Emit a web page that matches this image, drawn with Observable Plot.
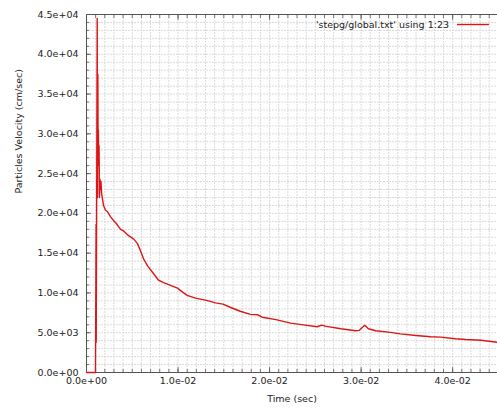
<!DOCTYPE html>
<html><head><meta charset="utf-8">
<script src="https://cdn.jsdelivr.net/npm/d3@7"></script>
<script src="https://cdn.jsdelivr.net/npm/@observablehq/plot@0.6"></script>
<style>
html,body{margin:0;padding:0;background:#fff;}
</style>
</head><body>
<div id="chart"></div>
<script>
const time = [0, 0.00098, 0.00105, 0.00106, 0.00112, 0.00117, 0.00120, 0.00124, 0.00127, 0.00130, 0.00133, 0.00137, 0.00142, 0.00147, 0.00152, 0.00158, 0.00165,
  0.00186, 0.00208, 0.0023, 0.00262, 0.00295, 0.00328, 0.00372, 0.00404, 0.00448, 0.00514, 0.00557, 0.0059, 0.00623, 0.00667, 0.00721, 0.00754, 0.00787, 0.00842,
  0.00918, 0.00995, 0.0105, 0.0110, 0.0119, 0.0130, 0.0141, 0.0149, 0.0157, 0.0168, 0.0179, 0.0187, 0.0192, 0.0207, 0.0223, 0.0239, 0.0252, 0.0257, 0.0262,
  0.0278, 0.0294, 0.0298, 0.0304, 0.0308, 0.0316, 0.0332, 0.0343, 0.0360, 0.0376, 0.0387, 0.0403, 0.0414, 0.0431, 0.0449];
const velocity = [0, 0, 18600, 3800, 25000, 44500, 22000, 37500, 26000, 30500, 26500, 28500, 22000, 24300, 23000, 24000, 22500,
  21000, 20400, 20200, 19600, 19100, 18700, 18000, 17800, 17300, 16800, 16200, 15300, 14300, 13400, 12600, 12100, 11600, 11300,
  10950, 10600, 10100, 9700, 9350, 9100, 8750, 8600, 8200, 7700, 7300, 7250, 6950, 6650, 6200, 5950, 5750, 5950, 5800,
  5500, 5250, 5300, 5950, 5500, 5250, 5050, 4850, 4650, 4500, 4450, 4250, 4150, 4050, 3800];
const xTicks = [0, 0.01, 0.02, 0.03, 0.04];
const yTicks = [0, 5000, 10000, 15000, 20000, 25000, 30000, 35000, 40000, 45000];
const xMinor = d3.range(0, 45).map(i => i / 1000);
const yMinor = d3.range(0, 46).map(i => i * 1000);
const xLabel = "Time (sec)";
const yLabel = "Particles Velocity (cm/sec)";
const legendLabel = "'stepg/global.txt' using 1:23";

const data = time.map((t, i) => ({t, v: velocity[i]}));
const fmt = d => {
  const [m, e] = d.toExponential(1).split("e");
  return m + "e" + e[0] + e.slice(1).padStart(2, "0");
};
const font = "DejaVu Sans, sans-serif";
const gridStyle = {stroke: "#dadada", strokeOpacity: 1, strokeDasharray: "2,1", strokeWidth: 1};
const tickStyle = {stroke: "#555", strokeWidth: 0.8, label: null};

const plot = Plot.plot({
  width: 497, height: 409,
  marginLeft: 86, marginTop: 14, marginBottom: 37, marginRight: 0,
  style: {fontFamily: font, background: "#fff"},
  x: {domain: [0, 0.0449]},
  y: {domain: [0, 45000]},
  marks: [
    Plot.gridX(xMinor, gridStyle),
    Plot.gridY(yMinor, gridStyle),
    Plot.ruleX([0], {stroke: "#555", strokeWidth: 1}),
    Plot.ruleY([0, 45000], {stroke: "#555", strokeWidth: 1}),
    // ticks drawn inward
    Plot.axisY(yTicks, {anchor: "left", text: null, tickSize: 5, dx: 5, ...tickStyle}),
    Plot.axisY(yMinor, {anchor: "left", text: null, tickSize: 3, dx: 3, ...tickStyle}),
    Plot.axisX(xTicks, {anchor: "bottom", text: null, tickSize: 5, dy: -5, ...tickStyle}),
    Plot.axisX(xMinor, {anchor: "bottom", text: null, tickSize: 3, dy: -3, ...tickStyle}),
    Plot.axisX(xTicks, {anchor: "top", text: null, tickSize: 5, dy: 5, ...tickStyle}),
    Plot.axisX(xMinor, {anchor: "top", text: null, tickSize: 3, dy: 3, ...tickStyle}),
    // tick labels
    Plot.axisY(yTicks, {anchor: "left", tickSize: 0, tickPadding: 8, tickFormat: fmt, fontSize: 9.5, fill: "#222", label: null}),
    Plot.axisX(xTicks, {anchor: "bottom", tickSize: 0, tickPadding: 5, tickFormat: fmt, fontSize: 9.5, fill: "#222", label: null}),
    Plot.line(data, {x: "t", y: "v", stroke: "#dd1515", strokeWidth: 1.4}),
    Plot.text([xLabel], {text: d => d, frameAnchor: "bottom", dy: 29, fontSize: 9.5, fill: "#222"}),
    Plot.text([yLabel], {text: d => d, frameAnchor: "left", dx: -68, rotate: -90, fontSize: 9.5, fill: "#222"})
  ]
});
// legend (gnuplot key)
const svg = d3.select(plot);
svg.append("text").attr("x", 449).attr("y", 28).attr("text-anchor", "end")
  .attr("font-family", font).attr("font-size", 9.5).attr("fill", "#222").text(legendLabel);
svg.append("line").attr("x1", 457).attr("x2", 489).attr("y1", 24.5).attr("y2", 24.5)
  .attr("stroke", "#dd1515").attr("stroke-width", 1.4);
document.getElementById("chart").append(plot);
</script>
</body></html>
